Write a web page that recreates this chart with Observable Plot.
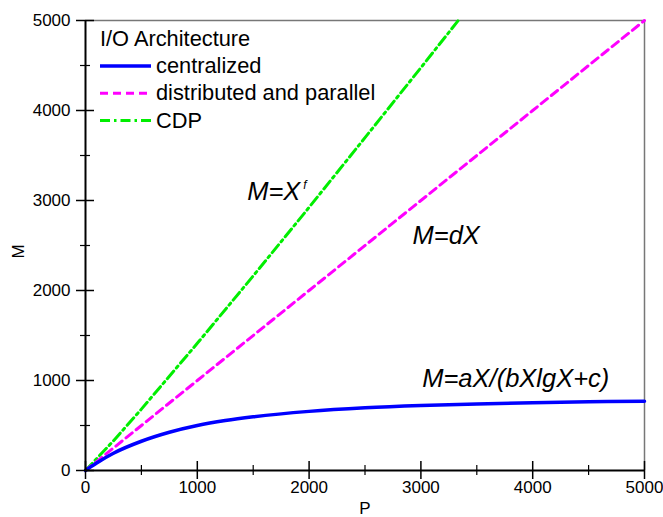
<!DOCTYPE html>
<html><head><meta charset="utf-8">
<script src="https://cdn.jsdelivr.net/npm/d3@7"></script>
<script src="https://cdn.jsdelivr.net/npm/@observablehq/plot@0.6"></script>
<style>
body{margin:0;background:#fff}
#wrap{position:relative;width:663px;height:517px;overflow:hidden;font-family:"Liberation Sans",Arial,sans-serif}
#wrap svg{position:absolute;left:0;top:0}
</style></head><body><div id="wrap"></div>
<script>
const legendTitle = "I/O Architecture";
const seriesNames = ["centralized", "distributed and parallel", "CDP"];
const seriesColors = ["#0000ff", "#ff00ff", "#00ee00"];
const seriesDash = [null, "8,5", "10,4,2.5,4"];

const centralizedP = [0, 50, 100, 250, 500, 750, 1000, 1250, 1500, 2000, 2500, 3000, 3500, 4000, 4500, 5000];
const centralizedM = [0, 43, 84, 192, 325, 425, 500, 555, 597, 657, 696, 722, 740, 754, 763, 770];
const distributedP = [0, 1000, 2000, 3000, 4000, 5000];
const distributedM = [0, 1000, 2000, 3000, 4000, 5000];
const cdpP = [0, 250, 500, 1000, 1500, 2000, 2500, 3000, 3334];
const cdpM = [0, 330, 682, 1413, 2162, 2924, 3698, 4476, 5000];

const majorTicks = [0, 1000, 2000, 3000, 4000, 5000];
const minorTicks = [500, 1500, 2500, 3500, 4500];

const annotations = [
  {text: "M=X", p: 1446, m: 3100},
  {text: "M=dX", p: 2925, m: 2611},
  {text: "M=aX/(bXlgX+c)", p: 3012, m: 1014}
];

const zip = (xs, ys) => xs.map((x, i) => ({p: x, m: ys[i]}));
const centralized = zip(centralizedP, centralizedM);
const distributed = zip(distributedP, distributedM);
const cdp = zip(cdpP, cdpM);
const FONT = '"Liberation Sans", Arial, sans-serif';

const chart = Plot.plot({
  width: 663, height: 517,
  marginLeft: 85, marginRight: 19, marginTop: 20, marginBottom: 47,
  x: {domain: [0, 5000]},
  y: {domain: [0, 5000]},
  style: {fontFamily: FONT, background: "transparent", color: "black", overflow: "visible"},
  marks: [
    Plot.ruleY([5000], {stroke: "#777", strokeWidth: 1.5}),
    Plot.ruleX([5000], {stroke: "#777", strokeWidth: 1.5}),
    Plot.line(cdp, {x: "p", y: "m", stroke: seriesColors[2], strokeWidth: 3, strokeDasharray: seriesDash[2]}),
    Plot.line(distributed, {x: "p", y: "m", stroke: seriesColors[1], strokeWidth: 3, strokeDasharray: seriesDash[1]}),
    Plot.line(centralized, {x: "p", y: "m", stroke: seriesColors[0], strokeWidth: 3.5, curve: "monotone-x"}),
    Plot.ruleY([0], {stroke: "black", strokeWidth: 2}),
    Plot.ruleX([0], {stroke: "black", strokeWidth: 2}),
    Plot.axisX({ticks: majorTicks, tickSize: 18, dy: -9, text: null, label: null, strokeWidth: 1.5}),
    Plot.axisX({ticks: minorTicks, tickSize: 10, dy: -5, text: null, label: null, strokeWidth: 1.2}),
    Plot.axisX({ticks: majorTicks, tickSize: 0, tickPadding: 10, fontSize: 17, label: null, tickFormat: d => String(d)}),
    Plot.axisY({ticks: majorTicks, tickSize: 18, dx: 9, text: null, label: null, strokeWidth: 1.5}),
    Plot.axisY({ticks: minorTicks, tickSize: 10, dx: 5, text: null, label: null, strokeWidth: 1.2}),
    Plot.axisY({ticks: majorTicks, tickSize: 0, tickPadding: 15, fontSize: 17, label: null, tickFormat: d => String(d)}),
    Plot.text(["P"], {frameAnchor: "bottom", lineAnchor: "bottom", dy: 43, fontSize: 17, fill: "black"}),
    Plot.text(["M"], {frameAnchor: "left", rotate: -90, dx: -67, dy: 13, fontSize: 17, fill: "black"}),
    Plot.text(annotations, {x: "p", y: "m", text: "text", textAnchor: "start", lineAnchor: "middle", fontSize: 25.5, fontStyle: "italic", fill: "black"}),
    Plot.text(annotations.slice(0, 1), {x: "p", y: "m", text: () => "f", textAnchor: "start", lineAnchor: "middle", dx: 56, dy: -6, fontSize: 12, fontStyle: "italic", fill: "black"})
  ]
});

const wrap = document.getElementById("wrap");
wrap.appendChild(chart);

// legend overlay
const ns = "http://www.w3.org/2000/svg";
const leg = document.createElementNS(ns, "svg");
leg.setAttribute("width", 663);
leg.setAttribute("height", 517);
leg.style.pointerEvents = "none";
const title = document.createElementNS(ns, "text");
title.setAttribute("x", 100); title.setAttribute("y", 46);
title.setAttribute("font-size", 21.8); title.setAttribute("font-family", FONT);
title.textContent = legendTitle;
leg.appendChild(title);
seriesNames.forEach((name, i) => {
  const base = 73 + i * 27.3;
  const ln = document.createElementNS(ns, "line");
  ln.setAttribute("x1", 100); ln.setAttribute("x2", 151);
  ln.setAttribute("y1", base - 7); ln.setAttribute("y2", base - 7);
  ln.setAttribute("stroke", seriesColors[i]);
  ln.setAttribute("stroke-width", i === 0 ? 3.5 : 3);
  if (seriesDash[i]) ln.setAttribute("stroke-dasharray", seriesDash[i]);
  leg.appendChild(ln);
  const t = document.createElementNS(ns, "text");
  t.setAttribute("x", 156); t.setAttribute("y", base);
  t.setAttribute("font-size", 21.8); t.setAttribute("font-family", FONT);
  t.textContent = name;
  leg.appendChild(t);
});
wrap.appendChild(leg);
</script></body></html>
